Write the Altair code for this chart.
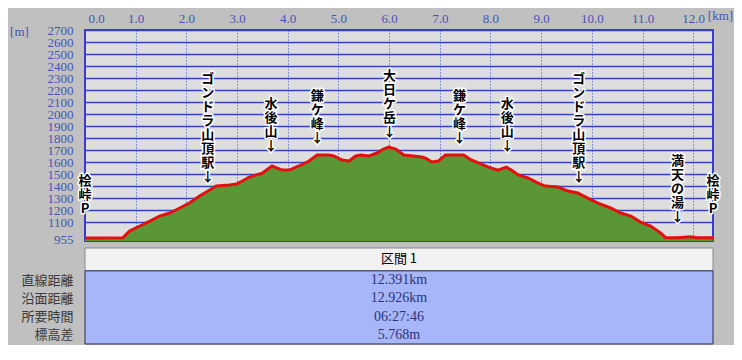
import altair as alt
import pandas as pd

# ---------------- data ----------------
dist_km = [0.00, 0.10, 0.75, 0.88, 1.08, 1.28, 1.47, 1.67, 1.87, 2.06, 2.26, 2.46, 2.59,
           2.85, 2.99, 3.14, 3.24, 3.50, 3.69, 3.89, 4.03, 4.22, 4.42, 4.58, 4.72, 4.81,
           4.91, 5.07, 5.21, 5.34, 5.44, 5.60, 5.76, 5.89, 5.99, 6.13, 6.29, 6.48, 6.64,
           6.72, 6.84, 6.97, 7.11, 7.27, 7.37, 7.47, 7.62, 7.76, 7.96, 8.15, 8.31, 8.41,
           8.55, 8.74, 8.94, 9.08, 9.33, 9.53, 9.72, 9.92, 10.12, 10.37, 10.57, 10.77,
           10.96, 11.16, 11.36, 11.45, 11.69, 11.94, 12.08, 12.39]
elev_m = [968, 968, 970, 1025, 1067, 1108, 1150, 1175, 1217, 1258, 1317, 1367, 1400,
          1408, 1417, 1450, 1475, 1508, 1567, 1533, 1533, 1567, 1608, 1658, 1658, 1658,
          1650, 1617, 1608, 1650, 1658, 1650, 1675, 1708, 1725, 1708, 1658, 1650, 1642,
          1633, 1600, 1608, 1658, 1658, 1658, 1658, 1617, 1592, 1558, 1533, 1558, 1533,
          1492, 1467, 1425, 1400, 1392, 1358, 1342, 1300, 1258, 1217, 1175, 1150,
          1100, 1067, 1008, 972, 970, 978, 970, 970]

ann_km = [0.0, 2.42, 3.67, 4.58, 6.01, 7.39, 8.33, 9.74, 11.69, 12.39]
ann_top_m = [1492, 2342, 2133, 2200, 2367, 2200, 2133, 2342, 1658, 1492]
ann_names = ["桧峠P", "ゴンドラ山頂駅↓", "水後山↓", "鎌ケ峰↓", "大日ケ岳↓",
             "鎌ケ峰↓", "水後山↓", "ゴンドラ山頂駅↓", "満天の湯↓", "桧峠P"]

x_ticks = list(range(0, 13))
y_ticks = [955] + list(range(1100, 2701, 100))

section_title = "区間 1"
row_labels = ["直線距離", "沿面距離", "所要時間", "標高差"]
row_values = ["12.391km", "12.926km", "06:27:46", "5.768m"]

# ---------------- style ----------------
BG = "#c0c0c0"
PLOT_BG = "#dedede"
GRID = "#3444c4"
BLUE_TXT = "#4454b4"
GREEN = "#5a9634"
RED = "#e41010"
NUM_FONT = "Liberation Serif"
JP_FONT = "Noto Sans CJK JP"

X_MAX = 12.39
Y_MIN, Y_MAX = 942, 2700

prof = pd.DataFrame({"km": dist_km, "m": elev_m})
ann = pd.DataFrame({"km": ann_km, "m": ann_top_m,
                    "label": ["\n".join(list(s)) for s in ann_names]})

xs = alt.Scale(domain=[0, X_MAX], nice=False, zero=False)
ys = alt.Scale(domain=[Y_MIN, Y_MAX], nice=False, zero=False)

x_axis = alt.Axis(orient="top", values=x_ticks, format=".1f", title="[km]",
                  titleX=635, titleY=-15, titleAlign="center", titleBaseline="middle",
                  titleFont=NUM_FONT, titleFontSize=13, titleFontWeight="normal",
                  titleColor=BLUE_TXT, labelFont=NUM_FONT, labelFontSize=13,
                  labelColor=BLUE_TXT, labelPadding=5, labelFlush=True,
                  labelFlushOffset=-3, labelOverlap=False, ticks=False, domain=False,
                  grid=True, gridColor=GRID, gridDash=[1, 2], gridWidth=1)
y_axis = alt.Axis(values=y_ticks, format="d", title="[m]", titleAngle=0, titleX=-66,
                  titleY=1, titleAlign="center", titleBaseline="middle",
                  titleFont=NUM_FONT, titleFontSize=13, titleFontWeight="normal",
                  titleColor=BLUE_TXT, labelFont=NUM_FONT, labelFontSize=13,
                  labelColor=BLUE_TXT, labelPadding=12, labelOverlap=False,
                  ticks=False, domain=False, grid=True, gridColor=GRID, gridWidth=1.5)

X = alt.X("km:Q", scale=xs, axis=x_axis)
Y = alt.Y("m:Q", scale=ys, axis=y_axis)

base = alt.Chart(prof)
area = base.mark_area(color=GREEN, clip=True).encode(x=X, y=Y)
line = base.mark_line(color=RED, strokeWidth=3, clip=True).encode(x=X, y=Y)

ann_base = alt.Chart(ann).encode(x=X, y=Y, text="label:N")
halo = ann_base.mark_text(font=JP_FONT, fontSize=13, fontWeight="bold", lineBreak="\n",
                          lineHeight=14, baseline="top", align="center", stroke="white",
                          strokeWidth=3, strokeJoin="round", color="white")
txt = ann_base.mark_text(font=JP_FONT, fontSize=13, fontWeight="bold", lineBreak="\n",
                         lineHeight=14, baseline="top", align="center", color="black")

profile = alt.layer(area, line, halo, txt).properties(
    width=628, height=211,
    view=alt.ViewBackground(fill=PLOT_BG, stroke="#3a3ad0", strokeWidth=2))

# ---------------- table ----------------
HEAD = 1.25
N = len(row_labels)
tab = pd.DataFrame({"label": row_labels, "value": row_values, "row": list(range(N))})
ts = alt.Scale(domain=[0, HEAD + N], reverse=True, nice=False, zero=False)
label_expr = "[" + ",".join("'%s'" % s for s in row_labels) + \
    "][round(datum.value - %s - 0.5)]" % HEAD
t_axis = alt.Axis(values=[HEAD + i + 0.5 for i in range(N)], labelExpr=label_expr,
                  labelFont=JP_FONT, labelFontSize=13, labelColor="#3a3a3a",
                  labelPadding=12, labelOverlap=False, ticks=False, domain=False,
                  grid=False, title=None)

head_df = pd.DataFrame({"t": [section_title], "y0": [0.0], "y1": [HEAD], "yc": [HEAD / 2]})
body_df = pd.DataFrame({"y0": [HEAD], "y1": [HEAD + N]})

head_rect = alt.Chart(head_df).mark_rect(fill="#f2f2f2", stroke="#8a8a8a", strokeWidth=1).encode(
    y=alt.Y("y0:Q", scale=ts, axis=t_axis), y2="y1:Q")
body_rect = alt.Chart(body_df).mark_rect(fill="#a6b6f8", stroke="#2c2c50", strokeWidth=1).encode(
    y=alt.Y("y0:Q", scale=ts, axis=t_axis), y2="y1:Q")
head_txt = alt.Chart(head_df).mark_text(font=JP_FONT, fontSize=13, color="black",
                                         baseline="middle").encode(
    y=alt.Y("yc:Q", scale=ts, axis=t_axis), text="t:N")
val_txt = alt.Chart(tab).transform_calculate(yc="datum.row + %s + 0.5" % HEAD).mark_text(
    font=NUM_FONT, fontSize=14, color="#2c3478", baseline="middle").encode(
    y=alt.Y("yc:Q", scale=ts, axis=t_axis), text="value:N")

table = alt.layer(head_rect, body_rect, head_txt, val_txt).properties(
    width=628, height=96, view=alt.ViewBackground(stroke=None))

chart = alt.vconcat(profile, table, spacing=-3).properties(
    background=BG, padding={"left": 0, "top": 0, "right": 0, "bottom": 0})

chart.save("out.html", embed_options={"renderer": "svg", "actions": False})
